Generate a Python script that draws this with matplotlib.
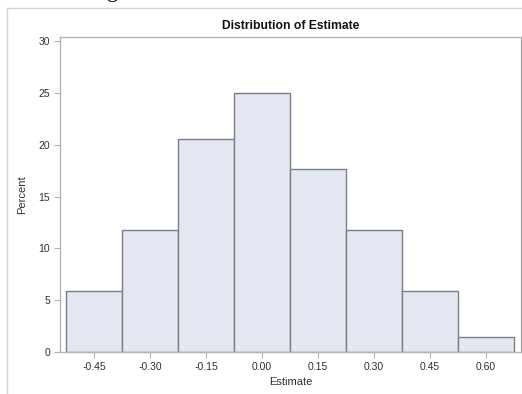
import matplotlib
matplotlib.use("Agg")
from matplotlib import pyplot as plt
from matplotlib.lines import Line2D

plt.rcParams['font.family'] = ['Liberation Sans', 'DejaVu Sans']

# histogram of the estimates: bin midpoints and percent per bin
bin_mids = [-0.45, -0.30, -0.15, 0.00, 0.15, 0.30, 0.45, 0.60]
percent = [5.88, 11.76, 20.59, 25.0, 17.65, 11.76, 5.88, 1.47]
bin_width = 0.15
x_ticks = [-0.45, -0.30, -0.15, 0.00, 0.15, 0.30, 0.45, 0.60]
x_tick_labels = ["-0.45", "-0.30", "-0.15", "0.00", "0.15", "0.30", "0.45", "0.60"]
y_ticks = [0, 5, 10, 15, 20, 25, 30]

fig = plt.figure(figsize=(5.22, 3.94), dpi=100)
ax = fig.add_axes([60 / 522, 1 - 352 / 394, 461 / 522, 315 / 394])

ax.bar(bin_mids, percent, width=bin_width, color="#e3e7f1",
       edgecolor="#7a7d85", linewidth=1.0, zorder=2)

ax.set_xlim(-0.541, 0.694)
ax.set_ylim(0, 30.4)
ax.set_xticks(x_ticks)
ax.set_xticklabels(x_tick_labels)
ax.set_yticks(y_ticks)

grey = "#b4b4b4"
for side in ["left", "bottom", "top"]:
    ax.spines[side].set_color(grey)
    ax.spines[side].set_linewidth(1.0)
ax.spines["right"].set_color("#9a9a9a")
ax.tick_params(axis="both", direction="out", length=4, width=0.8, color=grey,
               labelsize=7.5, labelcolor="#303030", pad=3)

ax.set_xlabel("Estimate", fontsize=8, color="#303030", labelpad=4)
ax.set_ylabel("Percent", fontsize=8, color="#303030", labelpad=8)
ax.set_title("Distribution of Estimate", fontsize=8.7, fontweight="bold",
             color="#101010", pad=6)

# outer frame of the graph area
fig.add_artist(Line2D([7 / 522, 7 / 522], [0, 1 - 8 / 394],
                      transform=fig.transFigure, color="#d4d4d4", linewidth=1.0))
fig.add_artist(Line2D([7 / 522, 1], [1 - 8 / 394, 1 - 8 / 394],
                      transform=fig.transFigure, color="#d4d4d4", linewidth=1.0))

# tail of a letter from the text above, cut by the top edge
fig.text(113 / 522, 1 + 3.5 / 394, "g", fontsize=16, family="Liberation Serif",
         ha="center", va="baseline", color="black")

fig.savefig("out.png", dpi=100)
